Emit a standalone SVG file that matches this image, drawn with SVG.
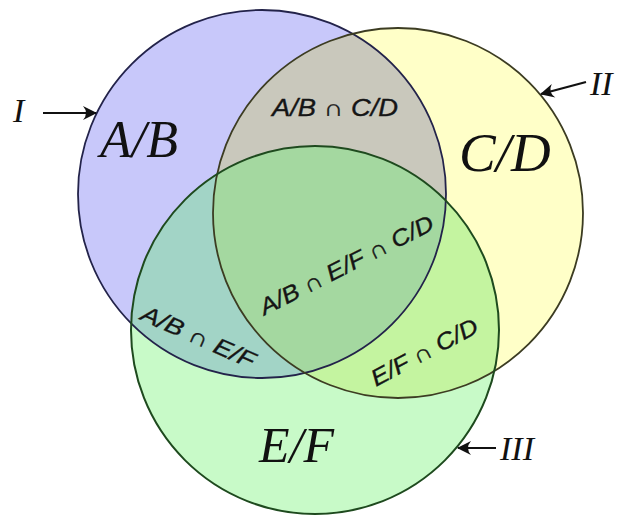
<svg xmlns="http://www.w3.org/2000/svg" width="630" height="518" viewBox="0 0 630 518">
  <style>
    .big { font-family: "Liberation Serif", "DejaVu Serif", serif; font-style: italic; fill: #111; }
    .tag { font-family: "Liberation Serif", "DejaVu Serif", serif; font-style: italic; font-size: 34px; fill: #111; }
    .small { font-family: "Liberation Sans", "DejaVu Sans", sans-serif; font-style: italic; font-size: 23px; fill: #151515; stroke: #151515; stroke-width: 0.35; }
    .edge { fill: none; }
    .arrow { stroke: #111; stroke-width: 2.2; fill: none; marker-end: url(#head); }
  </style>
  <defs>
    <circle id="cAB" cx="262" cy="194" r="184"/>
    <circle id="cCD" cx="398" cy="213" r="185"/>
    <circle id="cEF" cx="315" cy="330" r="184"/>
    <clipPath id="clipAB"><use href="#cAB"/></clipPath>
    <clipPath id="clipCD"><use href="#cCD"/></clipPath>
    <clipPath id="clipEF"><use href="#cEF"/></clipPath>
    <marker id="head" viewBox="-14 -8 16 16" refX="0" refY="0" markerWidth="16" markerHeight="16" markerUnits="userSpaceOnUse" orient="auto">
      <path d="M1,0 L-13,-7 Q-7,0 -13,7 Z" fill="#111"/>
    </marker>
  </defs>

  <rect width="630" height="518" fill="#ffffff"/>

  <!-- region fills -->
  <g id="fills">
    <use href="#cAB" fill="#c8c8fa"/>
    <use href="#cCD" fill="#ffffc8"/>
    <use href="#cEF" fill="#c8fac8"/>
    <g clip-path="url(#clipAB)"><use href="#cCD" fill="#c9c8bc"/></g>
    <g clip-path="url(#clipAB)"><use href="#cEF" fill="#a2d4c6"/></g>
    <g clip-path="url(#clipCD)"><use href="#cEF" fill="#c4f4a0"/></g>
    <g clip-path="url(#clipAB)"><g clip-path="url(#clipCD)"><use href="#cEF" fill="#a4d8a0"/></g></g>
  </g>

  <!-- set I -->
  <g id="setAB">
    <use href="#cAB" class="edge" stroke="#23234a" stroke-width="1.8"/>
    <text class="big" x="100" y="157" font-size="52">A/B</text>
  </g>

  <!-- set II -->
  <g id="setCD">
    <use href="#cCD" class="edge" stroke="#3c3c22" stroke-width="1.8"/>
    <text class="big" x="459" y="171" font-size="55">C/D</text>
  </g>

  <!-- set III -->
  <g id="setEF">
    <use href="#cEF" class="edge" stroke="#1e4a1e" stroke-width="2"/>
    <text class="big" x="259" y="462" font-size="50">E/F</text>
  </g>

  <!-- intersection labels -->
  <g id="overlaps">
    <text class="small" x="335" y="116" text-anchor="middle" textLength="126" lengthAdjust="spacingAndGlyphs">A/B ∩ C/D</text>
    <text class="small" text-anchor="middle" textLength="192" lengthAdjust="spacingAndGlyphs" transform="translate(350,272) rotate(-27)">A/B ∩ E/F ∩ C/D</text>
    <text class="small" text-anchor="middle" textLength="122" lengthAdjust="spacingAndGlyphs" transform="translate(195,344) rotate(24)">A/B ∩ E/F</text>
    <text class="small" text-anchor="middle" textLength="118" lengthAdjust="spacingAndGlyphs" transform="translate(428,359) rotate(-28)">E/F ∩ C/D</text>
  </g>

  <!-- pointer arrows -->
  <g id="connectors">
    <line class="arrow" x1="43" y1="113" x2="96" y2="113"/>
    <line class="arrow" x1="586" y1="82" x2="541" y2="94"/>
    <line class="arrow" x1="496" y1="448" x2="458" y2="448"/>
  </g>

  <!-- pointer tags -->
  <g id="tags">
    <text class="tag" x="13" y="122">I</text>
    <text class="tag" x="590" y="95">II</text>
    <text class="tag" x="500" y="460">III</text>
  </g>
</svg>
